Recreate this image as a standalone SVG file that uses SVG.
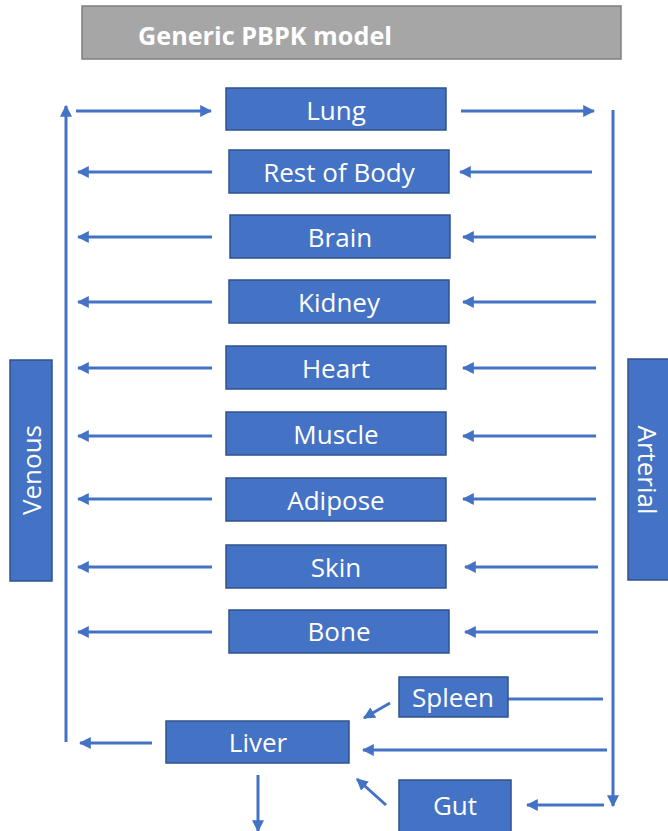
<svg xmlns="http://www.w3.org/2000/svg" width="668" height="831" viewBox="0 0 668 831">
<style>
.box{fill:#4472c4;stroke:#2f528f;stroke-width:1.5}
.t{fill:#fff;font-family:"Open Sans","Liberation Sans",sans-serif;font-size:26px;text-anchor:middle;dominant-baseline:central}
.c{stroke:#4472c4;stroke-width:3;fill:none;marker-end:url(#ah)}
</style>
<defs>
<marker id="ah" viewBox="0 0 10 10" refX="9" refY="5" markerWidth="4" markerHeight="4" orient="auto" markerUnits="strokeWidth">
<path d="M0,0 L10,5 L0,10 z" fill="#4472c4"/>
</marker>
</defs>
<rect width="668" height="831" fill="#fff"/>
<g id="title">
<rect x="82" y="6" width="539" height="53" fill="#a6a6a6" stroke="#7f7f7f" stroke-width="1.5"/>
<text x="138" y="35" fill="#fff" font-family="'Open Sans','Liberation Sans',sans-serif" font-size="25" font-weight="bold" textLength="254" lengthAdjust="spacingAndGlyphs" dominant-baseline="central">Generic PBPK model</text>
</g>
<g id="connectors">
<line class="c" x1="66" y1="742" x2="66" y2="106"/>
<line class="c" x1="613" y1="110" x2="613" y2="806"/>
<line class="c" x1="76" y1="111" x2="211" y2="111"/>
<line class="c" x1="461" y1="111" x2="594" y2="111"/>
<line class="c" x1="212" y1="172" x2="78" y2="172"/>
<line class="c" x1="592" y1="172" x2="460" y2="172"/>
<line class="c" x1="212" y1="237" x2="78" y2="237"/>
<line class="c" x1="596" y1="237" x2="463" y2="237"/>
<line class="c" x1="212" y1="302" x2="78" y2="302"/>
<line class="c" x1="596" y1="302" x2="463" y2="302"/>
<line class="c" x1="212" y1="368" x2="78" y2="368"/>
<line class="c" x1="596" y1="368" x2="463" y2="368"/>
<line class="c" x1="212" y1="436" x2="78" y2="436"/>
<line class="c" x1="596" y1="436" x2="463" y2="436"/>
<line class="c" x1="212" y1="499" x2="78" y2="499"/>
<line class="c" x1="596" y1="499" x2="463" y2="499"/>
<line class="c" x1="212" y1="567" x2="78" y2="567"/>
<line class="c" x1="598" y1="567" x2="465" y2="567"/>
<line class="c" x1="212" y1="632" x2="78" y2="632"/>
<line class="c" x1="598" y1="632" x2="465" y2="632"/>
<line class="c" x1="603" y1="699" x2="468" y2="699"/>
<line class="c" x1="390" y1="703" x2="364" y2="718"/>
<line class="c" x1="607" y1="750" x2="363" y2="750"/>
<line class="c" x1="604" y1="805" x2="527" y2="805"/>
<line class="c" x1="386" y1="805" x2="357" y2="779"/>
<line class="c" x1="152" y1="743" x2="80" y2="743"/>
<line class="c" x1="258" y1="775" x2="258" y2="831"/>
</g>
<g id="venous"><rect class="box" x="10" y="360" width="42" height="221"/><text class="t" transform="translate(31,470) rotate(-90)">Venous</text></g>
<g id="arterial"><rect class="box" x="628" y="359" width="44" height="221"/><text class="t" transform="translate(648,470) rotate(90)">Arterial</text></g>
<g id="lung"><rect class="box" x="226" y="88" width="220" height="42"/><text class="t" x="336" y="110">Lung</text></g>
<g id="rest"><rect class="box" x="229" y="150" width="220" height="43"/><text class="t" x="339" y="172">Rest of Body</text></g>
<g id="brain"><rect class="box" x="230" y="215" width="220" height="43"/><text class="t" x="340" y="237">Brain</text></g>
<g id="kidney"><rect class="box" x="229" y="280" width="220" height="43"/><text class="t" x="339" y="302">Kidney</text></g>
<g id="heart"><rect class="box" x="226" y="346" width="220" height="43"/><text class="t" x="336" y="368">Heart</text></g>
<g id="muscle"><rect class="box" x="226" y="412" width="220" height="43"/><text class="t" x="336" y="434">Muscle</text></g>
<g id="adipose"><rect class="box" x="226" y="478" width="220" height="43"/><text class="t" x="336" y="500">Adipose</text></g>
<g id="skin"><rect class="box" x="226" y="545" width="220" height="43"/><text class="t" x="336" y="567">Skin</text></g>
<g id="bone"><rect class="box" x="229" y="610" width="220" height="43"/><text class="t" x="339" y="631">Bone</text></g>
<g id="spleen"><rect class="box" x="399" y="677" width="109" height="40"/><text class="t" x="453" y="697">Spleen</text></g>
<g id="liver"><rect class="box" x="166" y="721" width="183" height="42"/><text class="t" x="258" y="742">Liver</text></g>
<g id="gut"><rect class="box" x="399" y="780" width="112" height="53"/><text class="t" x="455" y="805">Gut</text></g>
</svg>
